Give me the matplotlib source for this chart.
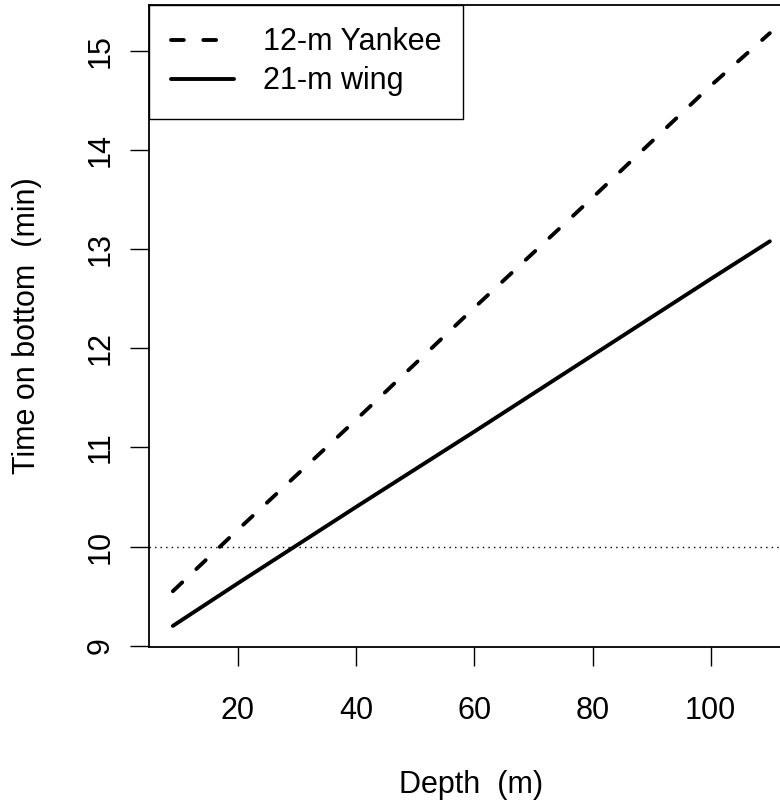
from matplotlib import pyplot as plt
import numpy as np

# values
depth = [9, 20, 40, 60, 80, 100, 110]
yankee_12m = [9.55, 10.17, 11.28, 12.41, 13.52, 14.65, 15.18]
wing_21m = [9.20, 9.63, 10.40, 11.16, 11.93, 12.70, 13.08]
x_ticks = [20, 40, 60, 80, 100]
y_ticks = [9, 10, 11, 12, 13, 14, 15]
reference_time = 10

plt.rcParams['font.family'] = ['Liberation Sans', 'DejaVu Sans']
FONT_SIZE = 22

fig = plt.figure(figsize=(7.8, 8.05), dpi=100)
# the right edge of the plot box lies outside the saved picture
ax = fig.add_axes([149 / 780, 158 / 805, 644.7 / 780, 642 / 805])

ax.plot(depth, yankee_12m, color="black", linewidth=2.8, linestyle=(0, (3.3, 5.0)),
        dash_capstyle="round", label="12-m Yankee")
ax.plot(depth, wing_21m, color="black", linewidth=2.8, solid_capstyle="round",
        label="21-m wing")
ax.axhline(reference_time, color="black", linewidth=1, linestyle=(0, (1, 3)))

ax.set_xlim(4.96, 114.04)
ax.set_ylim(8.987, 15.464)
ax.set_xticks(x_ticks)
ax.set_yticks(y_ticks)

for spine in ax.spines.values():
    spine.set_linewidth(1.3)
ax.tick_params(axis="both", length=14, width=1, labelsize=FONT_SIZE)
ax.tick_params(axis="x", pad=21)
ax.tick_params(axis="y", pad=10, labelrotation=90)
for lbl in ax.get_yticklabels():
    lbl.set_verticalalignment("center")

ax.set_xlabel("Depth  (m)", fontsize=FONT_SIZE, va="center")
ax.xaxis.set_label_coords(0.5, (647 - 785) / 642)
ax.set_ylabel("Time on bottom  (min)", fontsize=FONT_SIZE, va="center")
ax.yaxis.set_label_coords((27 - 149) / 644.7, 0.5)

leg = ax.legend(loc="upper left", bbox_to_anchor=(0, 1), borderaxespad=0,
                fancybox=False, edgecolor="black", framealpha=1,
                fontsize=FONT_SIZE, handlelength=2.04, handletextpad=0.95,
                borderpad=0.73, labelspacing=0.3)
leg.get_frame().set_linewidth(1)

fig.savefig("out.png", dpi=100)
